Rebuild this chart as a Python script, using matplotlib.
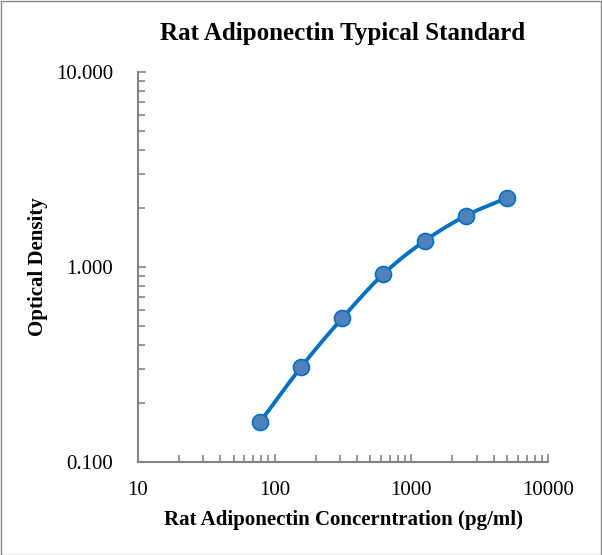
import numpy as np
import matplotlib.pyplot as plt
from matplotlib.ticker import FixedLocator, LogLocator, NullFormatter, FuncFormatter
from matplotlib.patches import Rectangle

# Standard curve values
conc = [78.125, 156.25, 312.5, 625, 1250, 2500, 5000]
od = [0.160, 0.307, 0.547, 0.921, 1.36, 1.83, 2.26]
x_ticks = [10, 100, 1000, 10000]
y_ticks = [0.1, 1, 10]

plt.rcParams['font.family'] = ['Liberation Serif', 'DejaVu Serif']

fig = plt.figure(figsize=(6.02, 5.55), dpi=100)
ax = fig.add_axes([138 / 602, 1 - 462 / 555, 410 / 602, 390 / 555])

# smooth line through the points (Catmull-Rom in log space, like Excel's smoothed line)
lx = np.log10(conc)
ly = np.log10(od)
px = np.concatenate([[2 * lx[0] - lx[1]], lx, [2 * lx[-1] - lx[-2]]])
py = np.concatenate([[2 * ly[0] - ly[1]], ly, [2 * ly[-1] - ly[-2]]])
sx, sy = [], []
t = np.linspace(0, 1, 30)
for i in range(1, len(px) - 2):
    for arr, out in ((px, sx), (py, sy)):
        p0, p1, p2, p3 = arr[i - 1], arr[i], arr[i + 1], arr[i + 2]
        out.extend(0.5 * (2 * p1 + (-p0 + p2) * t + (2 * p0 - 5 * p1 + 4 * p2 - p3) * t ** 2
                          + (-p0 + 3 * p1 - 3 * p2 + p3) * t ** 3))
ax.plot(10 ** np.array(sx), 10 ** np.array(sy), color='#0070C0', lw=2.8, zorder=2)
ax.plot(conc, od, 'o', ms=11.5, mfc='#4F81BD', mec='#0070C0', mew=1.2, zorder=3)

ax.set_xscale('log')
ax.set_yscale('log')
ax.set_xlim(10, 10000)
ax.set_ylim(0.1, 10)

ax.xaxis.set_major_locator(FixedLocator(x_ticks))
ax.yaxis.set_major_locator(FixedLocator(y_ticks))
ax.xaxis.set_minor_locator(LogLocator(base=10, subs=np.arange(2, 10)))
ax.yaxis.set_minor_locator(LogLocator(base=10, subs=np.arange(2, 10)))
ax.xaxis.set_minor_formatter(NullFormatter())
ax.yaxis.set_minor_formatter(NullFormatter())
ax.xaxis.set_major_formatter(FuncFormatter(lambda v, p: f'{v:.0f}'))
ax.yaxis.set_major_formatter(FuncFormatter(lambda v, p: f'{v:.3f}'))

for s in ('top', 'right'):
    ax.spines[s].set_visible(False)
for s in ('left', 'bottom'):
    ax.spines[s].set_color('#868686')
    ax.spines[s].set_linewidth(1.5)

ax.tick_params(which='both', direction='in', color='#868686', width=1.2, labelsize=15)
ax.tick_params(which='major', length=6, pad=14)
ax.tick_params(which='minor', length=5)
ax.tick_params(axis='y', which='major', pad=18)

ax.set_title('Rat Adiponectin Typical Standard', fontsize=18, fontweight='bold', pad=23)
ax.set_xlabel('Rat Adiponectin Concerntration (pg/ml)', fontsize=15, fontweight='bold', labelpad=7)
ax.set_ylabel('Optical Density', fontsize=15, fontweight='bold', labelpad=6)

fig.patches.append(Rectangle((0.5 / 602, 0.5 / 555), 1 - 1.5 / 602, 1 - 1.5 / 555,
                             transform=fig.transFigure, fill=False, ec='#868686', lw=1))

fig.savefig('out.png', dpi=100)
